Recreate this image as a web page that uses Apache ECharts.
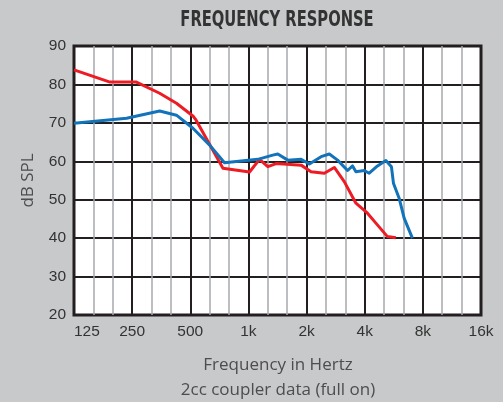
<!DOCTYPE html>
<html><head><meta charset="utf-8">
<script src="https://cdn.jsdelivr.net/npm/echarts@6/dist/echarts.min.js"></script>
<style>
html,body{margin:0;padding:0;background:#c8c9cb}
#wrap{position:relative;width:503px;height:402px}
#panel{position:absolute;background:#ffffff;z-index:0}
#c{position:absolute;left:0;top:0;width:503px;height:402px;z-index:1}
</style>
</head><body><div id="wrap"><div id="panel"></div><div id="c"></div></div>
<script>
// Tick labels (one per octave, 125 Hz .. 16 kHz); grid also has 1/3-octave lines
const xTicks = [125, 250, 500, 1000, 2000, 4000, 8000, 16000];
const xTickLabels = ['125', '250', '500', '1k', '2k', '4k', '8k', '16k'];
const yMin = 20, yMax = 90, yStep = 10;

// Red curve
const redFreq = [125, 192, 263, 347, 424, 516, 536, 738, 1013, 1141, 1260, 1392, 1874, 2110, 2471, 2784, 3135, 3602, 4134, 4570, 5245, 5795];
const redDb   = [83.8, 80.6, 80.6, 77.7, 75.1, 71.8, 70.7, 58.2, 57.2, 60.5, 58.6, 59.4, 59.0, 57.3, 56.9, 58.4, 54.7, 49.1, 46.5, 43.9, 40.4, 40.1];

// Blue curve
const blueFreq = [125, 234, 347, 424, 516, 630, 752, 1118, 1336, 1419, 1598, 1874, 2068, 2378, 2623, 2895, 3260, 3461, 3602, 3975, 4220, 4658, 5148, 5500, 5634, 6030, 6400, 7060];
const blueDb   = [69.9, 71.2, 73.1, 72.0, 68.6, 64.2, 59.6, 60.5, 61.6, 61.9, 60.3, 60.5, 59.3, 61.2, 61.9, 60.3, 57.6, 58.8, 57.3, 57.6, 56.9, 58.8, 60.2, 58.6, 54.3, 50.4, 45.2, 40.0];

const pairs = (f, v) => f.map((x, i) => [x, v[i]]);
const dark = '#231f20';
const nThirds = (xTickLabels.length - 1) * 3;
// 1/3-octave grid positions between octave ticks
const minorLines = [];
xTicks.slice(0, -1).forEach(f => { minorLines.push({xAxis: f * Math.pow(2, 1 / 3)}, {xAxis: f * Math.pow(2, 2 / 3)}); });

// plot-area layout (shared by the grid and the white panel behind it)
const G = {left: 74, right: 22, top: 46, bottom: 87};
const W = 503, H = 402;
const panel = document.getElementById('panel');
panel.style.left = G.left + 'px';
panel.style.top = G.top + 'px';
panel.style.width = (W - G.left - G.right) + 'px';
panel.style.height = (H - G.top - G.bottom) + 'px';

const chart = echarts.init(document.getElementById('c'), null, {renderer: 'canvas'});
chart.setOption({
  animation: false,
  grid: {left: G.left, right: G.right, top: G.top, bottom: G.bottom, show: true, backgroundColor: '#ffffff', borderColor: dark, borderWidth: 3},
  xAxis: [
    { type: 'value', position: 'bottom', min: 0, max: nThirds, interval: 3,
      axisLine: {show: false}, axisTick: {show: false},
      axisLabel: {show: true, margin: 9, fontSize: 15.5, color: '#333', fontFamily: 'Liberation Sans, Arial, sans-serif',
        alignMinLabel: 'left',
        formatter: v => xTickLabels[Math.round(v / 3)]},
      splitLine: {show: true, lineStyle: {color: dark, width: 2}} },
    { type: 'log', position: 'bottom', logBase: 2, min: 125, max: 16000, show: false }
  ],
  yAxis: {
    type: 'value', min: yMin, max: yMax, interval: yStep,
    axisLine: {show: false}, axisTick: {show: false},
    axisLabel: {margin: 8, fontSize: 15.5, color: '#333', fontFamily: 'Liberation Sans, Arial, sans-serif'},
    splitLine: {show: true, lineStyle: {color: dark, width: 2}},
    name: 'dB SPL', nameLocation: 'middle', nameRotate: 90, nameGap: 37,
    nameTextStyle: {fontSize: 17, color: '#4d4d4f', fontFamily: 'Open Sans, sans-serif'}
  },
  graphic: [
    {type: 'text', x: 277, y: 20.5, scaleX: 0.78, style: {text: 'FREQUENCY RESPONSE', x: 0, y: 0, textAlign: 'center', textVerticalAlign: 'middle',
      fontSize: 21, fontWeight: 'bold', fill: '#333', fontFamily: "'Liberation Sans Narrow', 'DejaVu Sans Condensed', sans-serif"}},
    {type: 'text', x: 278, y: 365, style: {text: 'Frequency in Hertz', x: 0, y: 0, textAlign: 'center', textVerticalAlign: 'middle',
      fontSize: 17, fill: '#4d4d4f', fontFamily: 'Open Sans, sans-serif'}},
    {type: 'text', x: 278, y: 390, style: {text: '2cc coupler data (full on)', x: 0, y: 0, textAlign: 'center', textVerticalAlign: 'middle',
      fontSize: 17, fill: '#4d4d4f', fontFamily: 'Open Sans, sans-serif'}}
  ],
  series: [
    {type: 'line', name: 'red', xAxisIndex: 1, data: pairs(redFreq, redDb), symbol: 'none', z: 5,
      lineStyle: {color: '#ed1c24', width: 3, join: 'round'},
      markLine: {silent: true, symbol: 'none', z: 1, label: {show: false},
        lineStyle: {color: '#a7a9ac', width: 1.5, type: 'solid'}, data: minorLines}},
    {type: 'line', name: 'blue', xAxisIndex: 1, data: pairs(blueFreq, blueDb), symbol: 'none', z: 6,
      lineStyle: {color: '#1273bb', width: 3, join: 'round'}}
  ]
});
</script></body></html>
